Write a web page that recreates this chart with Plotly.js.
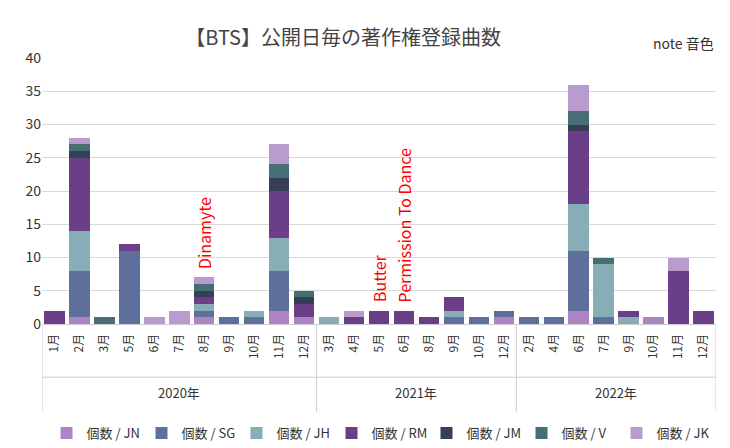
<!DOCTYPE html>
<html><head><meta charset="utf-8">
<script src="https://cdn.plot.ly/plotly-3.0.1.min.js"></script>
<style>body{margin:0}</style></head><body>
<div id="chart" style="width:730px;height:448px"></div>
<script>
var yearNames = ['2020年','2021年','2022年'];
var yearCounts = [11, 8, 8];
var months = ['1月','2月','3月','5月','6月','7月','8月','9月','10月','11月','12月',
  '3月','4月','5月','6月','8月','9月','10月','12月',
  '2月','4月','6月','7月','9月','10月','11月','12月'];
var JN = [0,1,0,0,0,0,1,0,0,2,1, 0,0,0,0,0,0,0,1, 0,0,2,0,0,1,0,0];
var SG = [0,7,0,11,0,0,1,1,1,6,0, 0,0,0,0,0,1,1,1, 1,1,9,1,0,0,0,0];
var JH = [0,6,0,0,0,0,1,0,1,5,0, 1,0,0,0,0,1,0,0, 0,0,7,8,1,0,0,0];
var RM = [2,11,0,1,0,0,1,0,0,7,2, 0,1,2,2,1,2,0,0, 0,0,11,0,1,0,8,2];
var JM = [0,1,0,0,0,0,1,0,0,2,1, 0,0,0,0,0,0,0,0, 0,0,1,0,0,0,0,0];
var V  = [0,1,1,0,0,0,1,0,0,2,1, 0,0,0,0,0,0,0,0, 0,0,2,1,0,0,0,0];
var JK = [0,1,0,0,1,2,1,0,0,3,0, 0,1,0,0,0,0,0,0, 0,0,4,0,0,0,2,0];
var series = [['個数 / JN',JN,'#ad85c6'],['個数 / SG',SG,'#5e6f9b'],['個数 / JH',JH,'#87adb6'],
  ['個数 / RM',RM,'#6a3f88'],['個数 / JM',JM,'#353f56'],['個数 / V',V,'#476e75'],['個数 / JK',JK,'#b99ccf']];
var idx = months.map(function(m,i){return i;});
var data = series.map(function(s){
  return {type:'bar', name:s[0], x:idx, y:s[1], marker:{color:s[2]}, hoverinfo:'y+name'};
});
var notes = [[6,8,'Dinamyte'],[13,3,'Butter'],[14,3,'Permission To Dance']];
var ann = notes.map(function(n){
  return {x:n[0], y:n[1], xref:'x', yref:'y', text:n[2], showarrow:false, textangle:-90,
    yanchor:'bottom', font:{color:'red', size:16}};
});
var shapes = [];
var start = -0.5;
yearNames.forEach(function(y,k){
  var end = start + yearCounts[k];
  ann.push({x:(start+end)/2, xref:'x', yref:'paper', y:-0.3, text:y, showarrow:false, font:{size:13}});
  shapes.push({type:'line', xref:'x', yref:'paper', x0:start, x1:start, y0:0, y1:-0.33, line:{color:'#ccc', width:1}});
  start = end;
});
shapes.push({type:'line', xref:'x', yref:'paper', x0:start, x1:start, y0:0, y1:-0.33, line:{color:'#ccc', width:1}});
shapes.push({type:'line', xref:'x', yref:'paper', x0:-0.5, x1:start, y0:-0.2, y1:-0.2, line:{color:'#ccc', width:1}});
ann.push({xref:'paper', yref:'paper', x:1, y:1.1, text:'note 音色', showarrow:false, xanchor:'right', font:{size:14,color:'#333'}});
var layout = {
  barmode:'stack', bargap:0.18,
  font:{family:'Noto Sans CJK JP, Noto Sans', size:13, color:'#333'},
  title:{text:'【BTS】公開日毎の著作権登録曲数', x:0.47, y:0.93, font:{size:20, color:'#444'}},
  margin:{l:42, r:14, t:58, b:124},
  paper_bgcolor:'#fff', plot_bgcolor:'#fff',
  xaxis:{tickmode:'array', tickvals:idx, ticktext:months, tickangle:-90, tickfont:{size:12}, automargin:false,
    range:[-0.5, months.length-0.5], linecolor:'#ccc', showline:true, ticks:'outside', ticklen:4, tickcolor:'#fff'},
  yaxis:{range:[0,40], dtick:5, gridcolor:'#d9d9d9', tickfont:{size:14}, zeroline:false, automargin:false},
  legend:{orientation:'h', traceorder:'normal', x:0.5, xanchor:'center', yref:'container', y:0.0, yanchor:'bottom',
    font:{size:13}, itemwidth:30, entrywidth:50},
  showlegend:true,
  annotations: ann, shapes: shapes
};
Plotly.newPlot('chart', data, layout, {displayModeBar:false});
</script></body></html>
